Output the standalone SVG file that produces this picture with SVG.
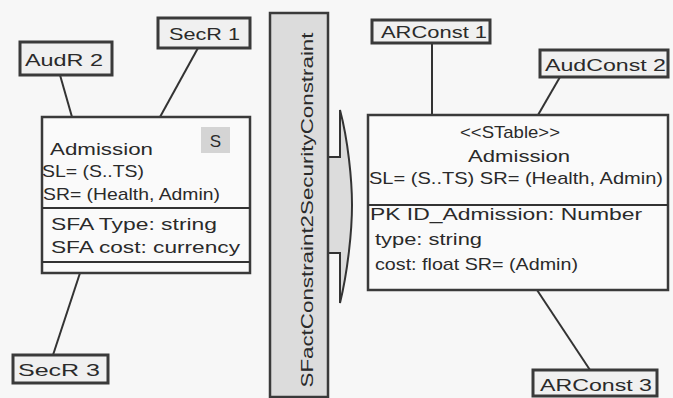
<svg xmlns="http://www.w3.org/2000/svg" width="673" height="398" viewBox="0 0 673 398">
<style>
.bg{fill:#f7f7f7}
.box{fill:#fafafa;stroke:#3a3a3a;stroke-width:2.5}
.lbl{fill:#f0f0f0;stroke:#3a3a3a;stroke-width:3}
.t{font-family:"Liberation Sans",Arial,sans-serif;font-size:17px;fill:#2a2a2a}
.c{text-anchor:middle}
.ln{stroke:#333;stroke-width:2;fill:none}
</style>
<rect class="bg" x="0" y="0" width="673" height="398"/>
<g id="connectors">
<line class="ln" x1="60" y1="75" x2="72" y2="117"/>
<line class="ln" x1="198" y1="48" x2="160" y2="117"/>
<line class="ln" x1="80" y1="273" x2="53" y2="355"/>
<line class="ln" x1="432" y1="43" x2="432" y2="115"/>
<line class="ln" x1="560" y1="77" x2="538" y2="115"/>
<line class="ln" x1="537" y1="290" x2="590" y2="370"/>
</g>
<g id="admission-left">
<rect class="box" x="42" y="117" width="208" height="156"/>
<line class="ln" x1="42" y1="208" x2="250" y2="208" stroke-width="2.5"/>
<line class="ln" x1="42" y1="262" x2="250" y2="262" stroke-width="2.5"/>
<rect x="201" y="127" width="29" height="26" fill="#d4d4d4"/>
<text class="t c" x="215.5" y="147" font-size="18">S</text>
<text class="t" x="50" y="155" textLength="103" lengthAdjust="spacingAndGlyphs">Admission</text>
<text class="t" x="42" y="177" textLength="102" lengthAdjust="spacingAndGlyphs">SL= (S..TS)</text>
<text class="t" x="43" y="200" textLength="177" lengthAdjust="spacingAndGlyphs">SR= (Health, Admin)</text>
<text class="t" x="51" y="230" textLength="166" lengthAdjust="spacingAndGlyphs">SFA Type: string</text>
<text class="t" x="51" y="253" textLength="189" lengthAdjust="spacingAndGlyphs">SFA cost: currency</text>
</g>
<g id="audr2">
<rect class="lbl" x="20" y="42" width="92" height="33"/>
<text class="t" x="25" y="66" textLength="78" lengthAdjust="spacingAndGlyphs">AudR 2</text>
</g>
<g id="secr1">
<rect class="lbl" x="158" y="18" width="92" height="30"/>
<text class="t" x="169" y="40" textLength="71" lengthAdjust="spacingAndGlyphs">SecR 1</text>
</g>
<g id="secr3">
<rect class="lbl" x="13" y="355" width="95" height="28"/>
<text class="t" x="18" y="376" textLength="82" lengthAdjust="spacingAndGlyphs">SecR 3</text>
</g>
<g id="transformation">
<path d="M328,157 H340 V110 C348,140 352,180 352,205 C352,230 348,270 340,303 V253 H328 Z" fill="#dcdcdc" stroke="none"/>
<path class="ln" d="M328,157 H340 V110 C348,140 352,180 352,205 C352,230 348,270 340,303 V253 H328" stroke-width="2.5"/>
<rect x="270" y="13" width="58" height="384" fill="#dcdcdc" stroke="#3a3a3a" stroke-width="2.5"/>
<text class="t c" transform="translate(313,210) rotate(-90)" font-size="18" textLength="355" lengthAdjust="spacingAndGlyphs">SFactConstraint2SecurityConstraint</text>
</g>
<g id="admission-right">
<rect class="box" x="368" y="115" width="300" height="175"/>
<line class="ln" x1="368" y1="205" x2="668" y2="205" stroke-width="2.5"/>
<text class="t" x="460" y="138" font-size="18" textLength="100" lengthAdjust="spacingAndGlyphs">&lt;&lt;STable&gt;&gt;</text>
<text class="t" x="468" y="162" textLength="102" lengthAdjust="spacingAndGlyphs">Admission</text>
<text class="t" x="369" y="184" textLength="294" lengthAdjust="spacingAndGlyphs">SL= (S..TS) SR= (Health, Admin)</text>
<text class="t" x="370" y="220" textLength="272" lengthAdjust="spacingAndGlyphs">PK ID_Admission: Number</text>
<text class="t" x="375" y="245" textLength="107" lengthAdjust="spacingAndGlyphs">type: string</text>
<text class="t" x="375" y="270" textLength="203" lengthAdjust="spacingAndGlyphs">cost: float  SR= (Admin)</text>
</g>
<g id="arconst1">
<rect class="lbl" x="372" y="20" width="118" height="23"/>
<text class="t" x="381" y="38" textLength="106" lengthAdjust="spacingAndGlyphs">ARConst 1</text>
</g>
<g id="audconst2">
<rect class="lbl" x="540" y="50" width="128" height="27"/>
<text class="t" x="545" y="71" textLength="121" lengthAdjust="spacingAndGlyphs">AudConst 2</text>
</g>
<g id="arconst3">
<rect class="lbl" x="533" y="370" width="124" height="26"/>
<text class="t" x="540" y="391" textLength="112" lengthAdjust="spacingAndGlyphs">ARConst 3</text>
</g>
</svg>
